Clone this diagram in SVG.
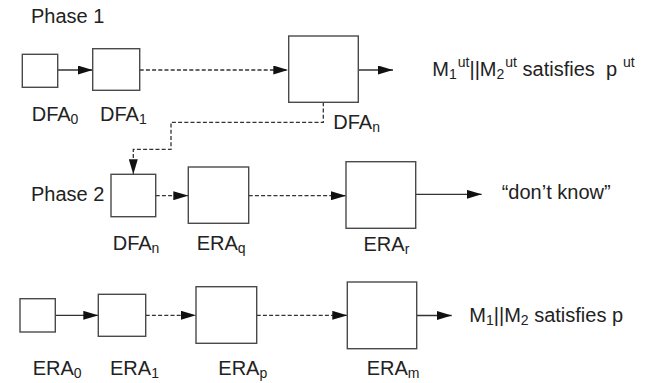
<svg xmlns="http://www.w3.org/2000/svg" width="657" height="383" viewBox="0 0 657 383">
<style>
  .box { fill: #fff; stroke: #4a4a4a; stroke-width: 1.4; }
  .ln { fill: none; stroke: #333; stroke-width: 1.3; }
  .dash { stroke-dasharray: 4 2.2; }
  text { font-family: "Liberation Sans", Arial, sans-serif; font-size: 20px; fill: #222; }
  .s { font-size: 14px; }
</style>
<defs>
  <marker id="ah" markerUnits="userSpaceOnUse" markerWidth="15" markerHeight="9" refX="15" refY="4.5" orient="auto">
    <path d="M0,0 L15,4.5 L0,9 z" fill="#111"/>
  </marker>
</defs>

<text x="31" y="22.7">Phase 1</text>
<text x="31" y="200.7">Phase 2</text>

<g id="connectors">
  <line class="ln" x1="57.7" y1="70" x2="92.7" y2="70" marker-end="url(#ah)"/>
  <line class="ln dash" x1="139.7" y1="70" x2="288.3" y2="70" marker-end="url(#ah)"/>
  <line class="ln" x1="358.3" y1="70" x2="393" y2="70" marker-end="url(#ah)"/>
  <path class="ln dash" d="M323.3,102.3 V122.3 H171 V149.3 H133.3 V174.3" marker-end="url(#ah)"/>
  <line class="ln dash" x1="155.7" y1="195.7" x2="188.3" y2="195.7" marker-end="url(#ah)"/>
  <line class="ln dash" x1="248.7" y1="195.7" x2="346" y2="195.7" marker-end="url(#ah)"/>
  <line class="ln" x1="415.7" y1="194.3" x2="481.7" y2="194.3" marker-end="url(#ah)"/>
  <line class="ln" x1="55.3" y1="315.3" x2="98.3" y2="315.3" marker-end="url(#ah)"/>
  <line class="ln dash" x1="145.7" y1="315.3" x2="196" y2="315.3" marker-end="url(#ah)"/>
  <line class="ln dash" x1="256.7" y1="315.3" x2="347.3" y2="315.3" marker-end="url(#ah)"/>
  <line class="ln" x1="416.7" y1="315.5" x2="451.7" y2="315.5" marker-end="url(#ah)"/>
</g>

<g id="dfa0"><rect class="box" x="22.3" y="54.3" width="35.4" height="33"/>
  <text x="31.7" y="120.7">DFA<tspan class="s" dy="3">0</tspan></text></g>
<g id="dfa1"><rect class="box" x="92.7" y="48.7" width="47" height="41.6"/>
  <text x="100" y="120.7">DFA<tspan class="s" dy="3">1</tspan></text></g>
<g id="dfan1"><rect class="box" x="288.7" y="36" width="69.6" height="66.3"/>
  <text x="333.3" y="129">DFA<tspan class="s" dy="3">n</tspan></text></g>
<g id="out1"><text x="432.3" y="75.7">M<tspan class="s" dy="3">1</tspan><tspan class="s" dy="-12" dx="1">ut</tspan><tspan dy="9">||M</tspan><tspan class="s" dy="3">2</tspan><tspan class="s" dy="-12" dx="1">ut</tspan><tspan dy="9" xml:space="preserve"> satisfies  p</tspan><tspan class="s" dy="-9" dx="6">ut</tspan></text></g>

<g id="dfan2"><rect class="box" x="111" y="174.3" width="44.7" height="42.4"/>
  <text x="112.7" y="250">DFA<tspan class="s" dy="3">n</tspan></text></g>
<g id="eraq"><rect class="box" x="188.3" y="167" width="60.4" height="56.3"/>
  <text x="196.7" y="250">ERA<tspan class="s" dy="3">q</tspan></text></g>
<g id="erar"><rect class="box" x="346" y="161.7" width="69.7" height="66.6"/>
  <text x="363.5" y="251">ERA<tspan class="s" dy="3">r</tspan></text></g>
<g id="out2"><text x="501.7" y="199.3">“don’t know”</text></g>

<g id="era0"><rect class="box" x="20" y="298.7" width="35.3" height="33.3"/>
  <text x="32.7" y="375">ERA<tspan class="s" dy="3">0</tspan></text></g>
<g id="era1"><rect class="box" x="98.3" y="294.3" width="47.4" height="42"/>
  <text x="110" y="375">ERA<tspan class="s" dy="3">1</tspan></text></g>
<g id="erap"><rect class="box" x="196" y="286.7" width="60.7" height="56.6"/>
  <text x="218.3" y="375">ERA<tspan class="s" dy="3">p</tspan></text></g>
<g id="eram"><rect class="box" x="347.3" y="282" width="69.4" height="66.7"/>
  <text x="366.7" y="375">ERA<tspan class="s" dy="3">m</tspan></text></g>
<g id="out3"><text x="469.3" y="321.7">M<tspan class="s" dy="3">1</tspan><tspan dy="-3">||M</tspan><tspan class="s" dy="3">2</tspan><tspan dy="-3"> satisfies p</tspan></text></g>
</svg>
